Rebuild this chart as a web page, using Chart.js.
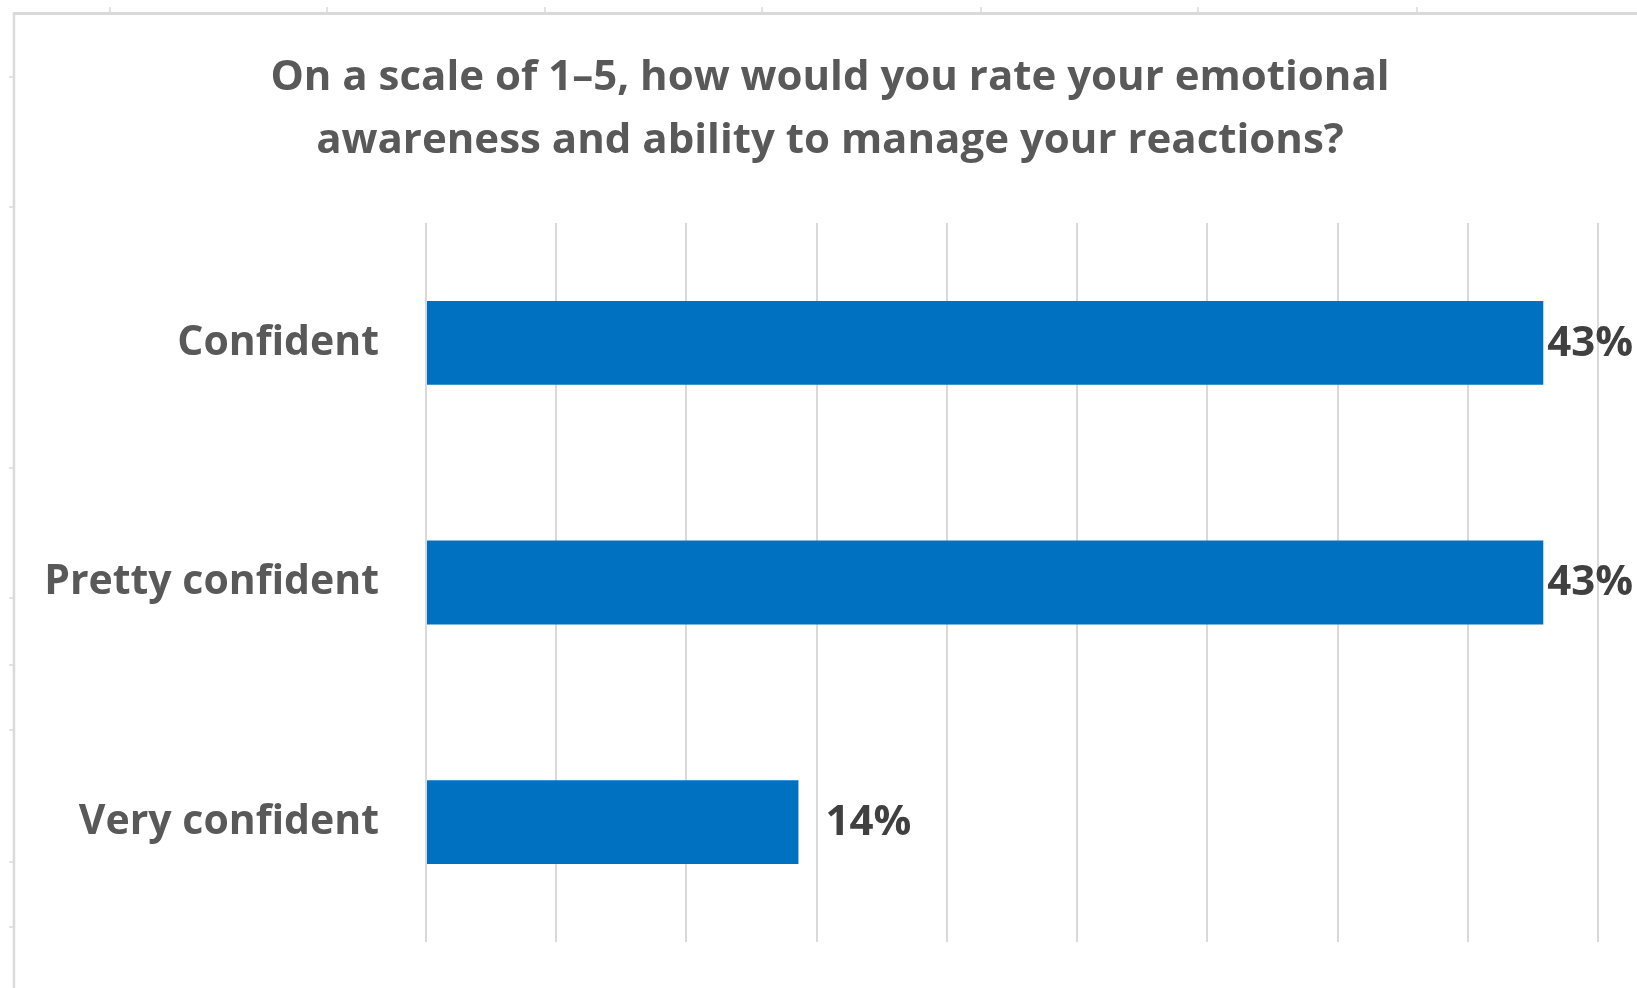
<!DOCTYPE html>
<html>
<head>
<meta charset="utf-8">
<script src="https://cdn.jsdelivr.net/npm/chart.js@4/dist/chart.umd.min.js"></script>
<style>
  html, body { margin: 0; padding: 0; background: #fff; }
  #wrap { width: 1637px; height: 988px; }
</style>
</head>
<body>
<div id="wrap"><canvas id="ratingChart" width="1637" height="988"></canvas></div>
<script>
// Survey answers (share of respondents, %)
const categories = ["Confident", "Pretty confident", "Very confident"];
const shares = [42.9, 42.9, 14.3];
const titleLines = [
  "On a scale of 1–5, how would you rate your emotional",
  "awareness and ability to manage your reactions?"
];

const FONT = "'Open Sans', 'DejaVu Sans', sans-serif";

// light grey frame the chart was cut out with
const framePlugin = {
  id: "frame",
  beforeDraw(chart) {
    const ctx = chart.ctx;
    ctx.save();
    ctx.fillStyle = "#fff";
    ctx.fillRect(0, 0, chart.width, chart.height);
    ctx.strokeStyle = "#dadada";
    ctx.lineWidth = 3;
    ctx.beginPath();
    ctx.moveTo(13, 13.5);
    ctx.lineTo(chart.width, 13.5);
    ctx.stroke();
    ctx.lineWidth = 2.5;
    ctx.beginPath();
    ctx.moveTo(14, 12);
    ctx.lineTo(14, chart.height);
    ctx.stroke();
    // little handle marks
    ctx.lineWidth = 1.5;
    [110, 327, 545, 762, 981, 1198, 1417].forEach(x => {
      ctx.beginPath();
      ctx.moveTo(x, 7);
      ctx.lineTo(x, 12);
      ctx.stroke();
    });
    [77, 207, 468, 598, 665, 730, 862, 927].forEach(y => {
      ctx.beginPath();
      ctx.moveTo(9, y);
      ctx.lineTo(13, y);
      ctx.stroke();
    });
    // title, centred a bit right of the plot like the original
    ctx.font = "bold 42px " + FONT;
    ctx.fillStyle = "#595959";
    ctx.textAlign = "center";
    ctx.textBaseline = "middle";
    titleLines.forEach((line, i) => ctx.fillText(line, 830, 78 + i * 63));
    ctx.restore();
  }
};

// value labels at the bar ends, kept inside the picture
const barLabels = {
  id: "barLabels",
  afterDatasetsDraw(chart) {
    const ctx = chart.ctx;
    const meta = chart.getDatasetMeta(0);
    ctx.save();
    ctx.font = "bold 42px " + FONT;
    ctx.fillStyle = "#404040";
    ctx.textBaseline = "middle";
    ctx.textAlign = "left";
    meta.data.forEach((bar, i) => {
      const txt = Math.round(shares[i]) + "%";
      const w = ctx.measureText(txt).width;
      let x = bar.x + 27;
      if (x + w > chart.width - 4) x = chart.width - 4 - w;
      ctx.fillText(txt, x, bar.y + 1);
    });
    ctx.restore();
  }
};

const ctx = document.getElementById("ratingChart").getContext("2d");
new Chart(ctx, {
  type: "bar",
  data: {
    labels: categories,
    datasets: [{
      data: shares,
      backgroundColor: "#0070c0",
      borderWidth: 0,
      barPercentage: 0.35,
      categoryPercentage: 1
    }]
  },
  options: {
    indexAxis: "y",
    responsive: false,
    animation: false,
    layout: { padding: { left: 0, right: 39, top: 223, bottom: 46 } },
    plugins: {
      legend: { display: false },
      tooltip: { enabled: false },
      title: { display: false }
    },
    scales: {
      x: {
        min: 0,
        max: 45,
        ticks: { display: false, stepSize: 5 },
        grid: { color: "#d9d9d9", lineWidth: 2, drawTicks: false },
        border: { display: false }
      },
      y: {
        afterFit(scale) {
          scale.width = 426;
          scale.paddingTop = 0;
          scale.paddingBottom = 0;
        },
        ticks: {
          color: "#595959",
          font: { family: FONT, size: 41, weight: "bold" },
          padding: 47
        },
        grid: { display: false, drawTicks: false },
        border: { display: false }
      }
    }
  },
  plugins: [framePlugin, barLabels]
});
</script>
</body>
</html>
